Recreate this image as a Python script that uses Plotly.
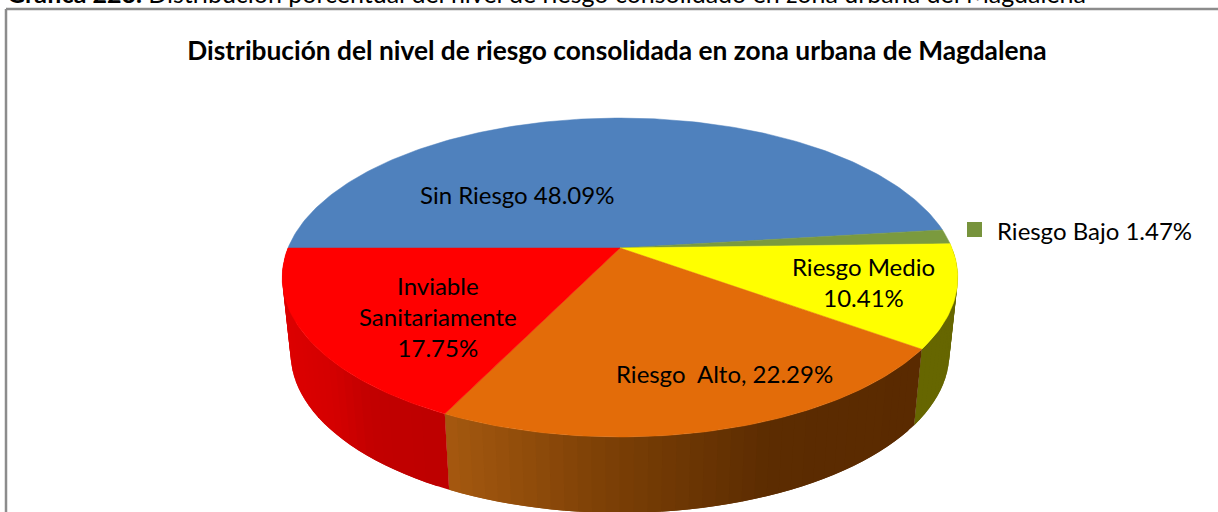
import numpy as np
import plotly.graph_objects as go

# ---- data ----
categories = ["Sin Riesgo", "Riesgo Bajo", "Riesgo Medio", "Riesgo Alto", "Inviable Sanitariamente"]
values = [48.09, 1.47, 10.41, 22.29, 17.75]
top_colors = ["#4f81bd", "#7b9a3e", "#ffff00", "#e36c09", "#ff0000"]

title_text = "Distribución del nivel de riesgo consolidada en zona urbana de Magdalena"
caption_text = "<b>Gráfica 223.</b> Distribución porcentual del nivel de riesgo consolidado en zona urbana del Magdalena"
label_texts = ["Sin Riesgo 48.09%", "Riesgo Medio<br>10.41%", "Riesgo  Alto, 22.29%", "Inviable<br>Sanitariamente<br>17.75%"]
legend_text = "Riesgo Bajo 1.47%"

# ---- layout / style ----
W, H = 1218, 512
CX, CY, A, B, K = 620.0, 248.0, 332.0, 154.0, 0.185
DEPTH, XSCALE = 76.0, 0.975
START_ANGLE = 180.0
label_pos = [(517, 194), (863, 282), (724, 373), (438, 316.5)]
FONT = "Lato"
LABEL_SIZE = 24
TITLE_SIZE = 26.3
CAPTION_SIZE = 25

# wall shading: (pixel x stops, rgb stops) per slice index
wall_shades = {
    2: ([900, 960], [(0x66, 0x66, 0x00), (0x66, 0x66, 0x00)]),
    3: ([450, 620, 780, 920], [(0xa8, 0x5a, 0x10), (0x7c, 0x40, 0x06), (0x5c, 0x2c, 0x01), (0x5a, 0x2a, 0x00)]),
    4: ([290, 345, 385, 450], [(0xdd, 0x00, 0x00), (0xd4, 0x00, 0x00), (0xc2, 0x00, 0x00), (0xbe, 0x00, 0x00)]),
}


def project(deg):
    t = np.radians(deg)
    u, v = np.cos(t), np.sin(t)
    w = 1 + K * v
    return CX + A * u / w, CY - B * v / w


def lower(x, y):
    return CX + XSCALE * (x - CX), y + DEPTH


def shade(px, stops):
    xs, cols = stops
    return "rgb(%d,%d,%d)" % tuple(int(round(np.interp(px, xs, [c[i] for c in cols]))) for i in range(3))


total = sum(values)
edges = [START_ANGLE]
for val in values:
    edges.append(edges[-1] - val / total * 360.0)

fig = go.Figure()

# side walls: strips of overlapping quads, each painted over the one before it
for idx, stops in wall_shades.items():
    a0, a1 = edges[idx], edges[idx + 1]
    n = max(int(abs(a1 - a0) / 2.0), 6)
    angs = np.linspace(a0, a1, n + 1)
    for j in range(n - 1, -1, -1):
        arc = np.linspace(angs[j], angs[min(j + 2, n)], 5)
        xs, ys = project(arc)
        lxs, lys = lower(xs, ys)
        col = shade(float(np.mean(lxs[:3])), stops)
        fig.add_trace(go.Scatter(
            x=[*xs, *lxs[::-1], xs[0]], y=[*ys, *lys[::-1], ys[0]],
            mode="lines", fill="toself", fillcolor=col,
            line=dict(color=col, width=0), hoverinfo="skip", showlegend=False))

# top faces
for i, name in enumerate(categories):
    angs = np.linspace(edges[i], edges[i + 1], max(int(abs(edges[i + 1] - edges[i])), 4) + 1)
    xs, ys = project(angs)
    fig.add_trace(go.Scatter(
        x=[CX, *xs, CX], y=[CY, *ys, CY], mode="lines", fill="toself",
        fillcolor=top_colors[i], line=dict(color=top_colors[i], width=0.5),
        name=name, hoverinfo="name", showlegend=False))

# legend swatch
fig.add_trace(go.Scatter(x=[974.5], y=[229.5], mode="markers",
                         marker=dict(symbol="square", size=15, color="#77933c"),
                         hoverinfo="skip", showlegend=False))

annotations = [dict(x=x, y=y, text=t, showarrow=False, xanchor="center", yanchor="middle",
                    font=dict(family=FONT, size=LABEL_SIZE, color="#000000"), align="center")
               for t, (x, y) in zip(label_texts, label_pos)]
annotations.append(dict(x=995, y=230, text=legend_text, showarrow=False, xanchor="left", yanchor="middle",
                        font=dict(family=FONT, size=LABEL_SIZE, color="#000000")))
annotations.append(dict(x=5, y=0, yshift=7, text=caption_text, showarrow=False, xanchor="left", yanchor="middle",
                        font=dict(family=FONT, size=CAPTION_SIZE, color="#000000")))

fig.update_layout(
    width=W, height=H, margin=dict(l=0, r=0, t=0, b=0),
    paper_bgcolor="#ffffff", plot_bgcolor="#ffffff",
    xaxis=dict(range=[0, W], visible=False, fixedrange=True),
    yaxis=dict(range=[H, 0], visible=False, fixedrange=True),
    title=dict(text="<b>" + title_text + "</b>", x=617 / W, y=1 - 51 / H, xanchor="center", yanchor="middle",
               font=dict(family=FONT, size=TITLE_SIZE, color="#000000")),
    annotations=annotations,
    shapes=[
        dict(type="line", x0=6, x1=W, y0=9, y1=9, line=dict(color="#8c8c8c", width=2.5)),
        dict(type="line", x0=6, x1=6, y0=9, y1=H, line=dict(color="#8c8c8c", width=2.5)),
    ],
)

fig.write_html("out.html", config=dict(displayModeBar=False),
               post_script="document.body.style.margin='0';document.body.style.overflow='hidden';")
